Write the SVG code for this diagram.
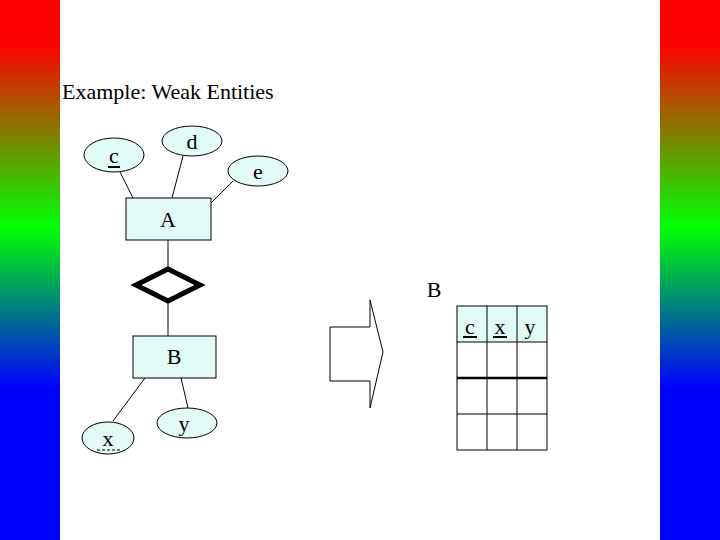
<svg xmlns="http://www.w3.org/2000/svg" width="720" height="540" viewBox="0 0 720 540">
<defs>
<linearGradient id="g" x1="0" y1="0" x2="0" y2="1">
<stop offset="0" stop-color="#ff0000"/><stop offset="0.08" stop-color="#ff0000"/>
<stop offset="0.42" stop-color="#00ff00"/><stop offset="0.72" stop-color="#0000ff"/><stop offset="1" stop-color="#0000ff"/>
</linearGradient>
<style>
.f{fill:#e3fbf6;stroke:#000;stroke-width:1}
.l{stroke:#000;stroke-width:1;fill:none}
text{font-family:"Liberation Serif",serif;font-size:22px;fill:#000}
</style>
</defs>
<rect width="720" height="540" fill="#fff"/>
<rect x="0" y="0" width="60" height="540" fill="url(#g)"/>
<rect x="660" y="0" width="60" height="540" fill="url(#g)"/>
<text x="62" y="99">Example: Weak Entities</text>
<g id="connectors" class="l">
<line x1="120" y1="172" x2="133" y2="198"/>
<line x1="183" y1="156" x2="172" y2="198"/>
<line x1="233" y1="181" x2="211" y2="203"/>
<line x1="168" y1="240" x2="168" y2="269"/>
<line x1="168" y1="301" x2="168" y2="336"/>
<line x1="145" y1="378" x2="113" y2="421"/>
<line x1="181" y1="378" x2="188" y2="408"/>
</g>
<g id="c"><ellipse class="f" cx="114" cy="155" rx="30" ry="17"/><text x="114" y="163" text-anchor="middle">c</text><line x1="108" y1="167" x2="120" y2="167" stroke="#000" stroke-width="2"/></g>
<g id="d"><ellipse class="f" cx="192" cy="141" rx="30" ry="15"/><text x="192" y="149" text-anchor="middle">d</text></g>
<g id="e"><ellipse class="f" cx="258" cy="171" rx="30" ry="15"/><text x="258" y="179" text-anchor="middle">e</text></g>
<g id="A"><rect class="f" x="126" y="198" width="85" height="42"/><text x="168" y="227" text-anchor="middle">A</text></g>
<g id="rel"><polygon points="136,285 168,269 200,285 168,301" fill="#fff" stroke="#000" stroke-width="5"/></g>
<g id="B"><rect class="f" x="133" y="336" width="83" height="42"/><text x="174" y="364" text-anchor="middle">B</text></g>
<g id="x"><ellipse class="f" cx="108" cy="438" rx="26" ry="16"/><text x="108" y="446" text-anchor="middle">x</text><line x1="97" y1="450" x2="120" y2="450" stroke="#000" stroke-dasharray="3,2"/></g>
<g id="y"><ellipse class="f" cx="187" cy="423" rx="30" ry="15"/><text x="184" y="431" text-anchor="middle">y</text></g>
<g id="arrow"><polygon points="330,327 370,327 370,300 383,352 370,408 370,381 330,381" fill="#fff" stroke="#000"/></g>
<g id="table">
<text x="434" y="297" text-anchor="middle">B</text>
<rect x="457" y="306" width="90" height="36" fill="#e3fbf6"/>
<g class="l">
<rect x="457" y="306" width="90" height="144"/>
<line x1="487" y1="306" x2="487" y2="450"/><line x1="517" y1="306" x2="517" y2="450"/>
<line x1="457" y1="342" x2="547" y2="342"/><line x1="457" y1="414" x2="547" y2="414"/>
<line x1="457" y1="378" x2="547" y2="378" stroke-width="2.5"/>
</g>
<text x="470" y="334" text-anchor="middle">c</text><line x1="463" y1="337" x2="477" y2="337" stroke="#000" stroke-width="2"/>
<text x="500" y="334" text-anchor="middle">x</text><line x1="493" y1="337" x2="507" y2="337" stroke="#000" stroke-width="2"/>
<text x="530" y="334" text-anchor="middle">y</text>
</g>
</svg>
